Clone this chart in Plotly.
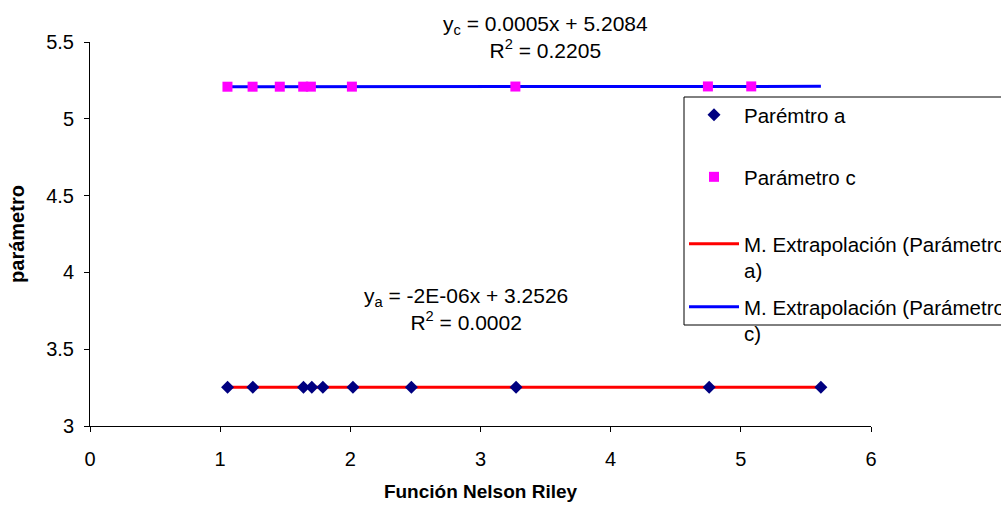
import plotly.graph_objects as go

# ---- data ----
x_a = [1.057, 1.251, 1.640, 1.704, 1.789, 2.020, 2.469, 3.273, 4.757, 5.615]
y_a = [3.2526, 3.2526, 3.2525, 3.2526, 3.2527, 3.2526, 3.2525, 3.2526, 3.2526, 3.2526]
x_c = [1.056, 1.249, 1.458, 1.638, 1.697, 2.012, 3.268, 4.747, 5.080]
y_c = [5.2089, 5.2090, 5.2091, 5.2092, 5.2093, 5.2094, 5.2100, 5.2107, 5.2109]
trend_x = [1.057, 5.615]
trend_a = [3.2526, 3.2526]
trend_c = [5.2089, 5.2112]

name_a = "Parémtro a"
name_c = "Parámetro c"
name_ta = "M. Extrapolación (Parámetro<br>a)"
name_tc = "M. Extrapolación (Parámetro<br>c)"
eq_c = "y<sub>c</sub> = 0.0005x + 5.2084<br>R<sup>2</sup> = 0.2205"
eq_a = "y<sub>a</sub> = -2E-06x + 3.2526<br>R<sup>2</sup> = 0.0002"
x_ticks = [0, 1, 2, 3, 4, 5, 6]
y_ticks = [3, 3.5, 4, 4.5, 5, 5.5]

FONT = "Liberation Sans, Arial, sans-serif"

fig = go.Figure()
fig.add_trace(go.Scatter(x=trend_x, y=trend_a, mode="lines", name=name_ta,
                         line=dict(color="#FF0000", width=3), legend="legend3"))
fig.add_trace(go.Scatter(x=trend_x, y=trend_c, mode="lines", name=name_tc,
                         line=dict(color="#0000FF", width=3), legend="legend4"))
fig.add_trace(go.Scatter(x=x_a, y=y_a, mode="markers", name=name_a,
                         marker=dict(symbol="diamond", color="#000080", size=10),
                         legend="legend"))
fig.add_trace(go.Scatter(x=x_c, y=y_c, mode="markers", name=name_c,
                         marker=dict(symbol="square", color="#FF00FF", size=10),
                         legend="legend2"))

L, R, T, B = 90, 130, 42, 84
W, H = 1001, 510
pw, ph = W - L - R, H - T - B

def px(xp):
    return (xp - L) / pw

def py(yp):
    return (H - B - yp) / ph

leg_common = dict(bgcolor="rgba(0,0,0,0)", borderwidth=0, xanchor="left", yanchor="top",
                  font=dict(family=FONT, size=20.5, color="black"), valign="top",
                  itemwidth=50)
lx = px(684)
fig.update_layout(
    showlegend=True,
    legend=dict(x=lx, y=py(95), **leg_common),
    legend2=dict(x=lx, y=py(157), **leg_common),
    legend3=dict(x=lx, y=py(224), **leg_common),
    legend4=dict(x=lx, y=py(287), **leg_common),
)

fig.add_shape(type="rect", xref="paper", yref="paper",
              x0=px(684), x1=px(1100), y0=py(325), y1=py(97),
              line=dict(color="black", width=1), fillcolor="white", layer="above")

fig.add_annotation(text=eq_c, x=3.496, y=py(37), xref="x", yref="paper", showarrow=False,
                   yanchor="middle", font=dict(family=FONT, size=21, color="black"))
fig.add_annotation(text=eq_a, x=2.889, y=3.765, xref="x", yref="y", showarrow=False,
                   yanchor="middle", font=dict(family=FONT, size=21, color="black"))

fig.update_layout(
    width=W, height=H,
    margin=dict(l=L, r=R, t=T, b=B, autoexpand=False),
    paper_bgcolor="white", plot_bgcolor="white",
    font=dict(family=FONT, size=20, color="black"),
    xaxis=dict(range=[0, 6], tickvals=x_ticks, showgrid=False, zeroline=False,
               showline=True, linecolor="black", linewidth=1, ticks="outside",
               ticklen=5, tickcolor="black", ticklabelstandoff=10,
               title=dict(text="<b>Función Nelson Riley</b>", font=dict(size=19), standoff=15)),
    yaxis=dict(range=[3, 5.5], tickvals=y_ticks, showgrid=False, zeroline=False,
               showline=True, linecolor="black", linewidth=1, ticks="outside",
               ticklen=5, tickcolor="black", ticklabelstandoff=6,
               title=dict(text="<b>parámetro</b>", font=dict(size=20), standoff=16)),
)

fig.write_html("out.html")
